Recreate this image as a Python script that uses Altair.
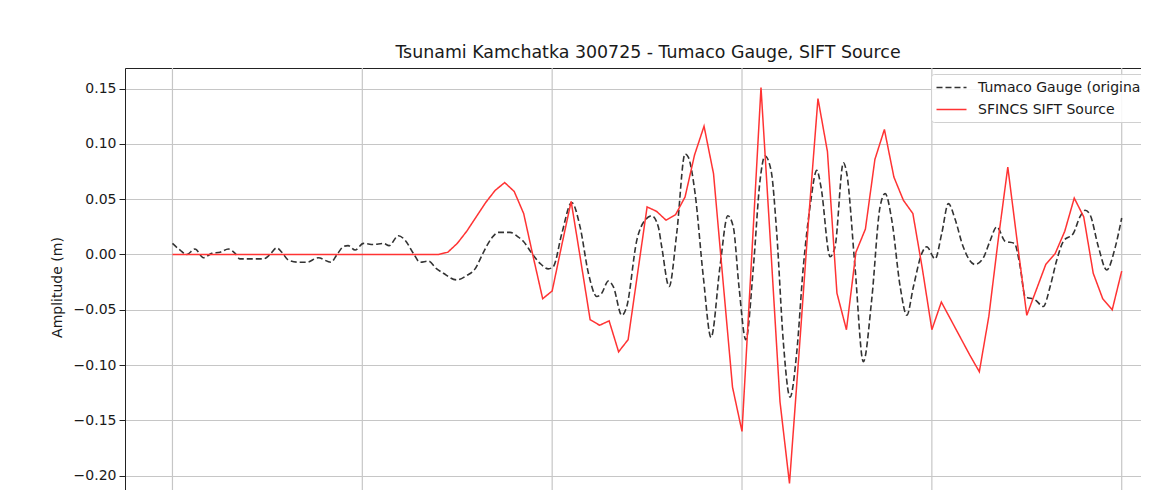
import altair as alt
import pandas as pd

chart_title = "Tsunami Kamchatka 300725 - Tumaco Gauge, SIFT Source"
y_title = "Amplitude (m)"
series_names = ["Tumaco Gauge (original)", "SFINCS SIFT Source"]
series_colors = ["#333333", "#ff3333"]
y_ticks = [-0.20, -0.15, -0.10, -0.05, 0.00, 0.05, 0.10, 0.15]
x_grid = [0, 1, 2, 3, 4, 5]

# Observed gauge record (time units, amplitude m), read at its turning points
gauge_t = [0.000, 0.040, 0.075, 0.119, 0.163, 0.207, 0.251, 0.294, 0.330, 0.356,
           0.418, 0.479, 0.514, 0.549, 0.576, 0.610, 0.663, 0.707, 0.768, 0.835,
           0.867, 0.900, 0.925, 0.962, 1.006, 1.058, 1.111, 1.141, 1.190, 1.225,
           1.269, 1.304, 1.348, 1.392, 1.427, 1.497, 1.550, 1.594, 1.638, 1.682,
           1.717, 1.778, 1.820, 1.848, 1.893, 1.936, 1.980, 2.006, 2.051, 2.103,
           2.147, 2.191, 2.235, 2.261, 2.296, 2.322, 2.367, 2.393, 2.446, 2.489,
           2.525, 2.559, 2.577, 2.616, 2.656, 2.700, 2.717, 2.753, 2.796, 2.837,
           2.884, 2.925, 2.954, 2.984, 3.020, 3.060, 3.095, 3.121, 3.153, 3.183,
           3.218, 3.253, 3.288, 3.323, 3.358, 3.394, 3.416, 3.464, 3.490, 3.534,
           3.552, 3.595, 3.639, 3.683, 3.727, 3.754, 3.789, 3.833, 3.868, 3.903,
           3.947, 3.973, 4.017, 4.052, 4.087, 4.122, 4.165, 4.227, 4.271, 4.306,
           4.342, 4.386, 4.435, 4.465, 4.491, 4.544, 4.587, 4.623, 4.658, 4.693,
           4.745, 4.780, 4.807, 4.833, 4.877, 4.921, 4.965, 5.000]
gauge_v = [0.010, 0.004, 0.000, 0.005, -0.003, 0.001, 0.002, 0.005, 0.001, -0.004,
           -0.004, -0.004, 0.000, 0.006, 0.002, -0.005, -0.007, -0.007, -0.003, -0.007,
           0.000, 0.007, 0.008, 0.004, 0.010, 0.009, 0.010, 0.008, 0.017, 0.013,
           0.001, -0.007, -0.006, -0.013, -0.017, -0.023, -0.019, -0.013, 0.002, 0.015,
           0.020, 0.020, 0.016, 0.012, 0.001, -0.008, -0.013, -0.011, 0.019, 0.047,
           0.025, -0.017, -0.038, -0.035, -0.024, -0.029, -0.055, -0.047, 0.013, 0.031,
           0.035, 0.025, 0.007, -0.029, 0.019, 0.091, 0.088, 0.055, -0.020, -0.075,
           -0.011, 0.035, 0.025, -0.029, -0.077, -0.011, 0.067, 0.089, 0.076, 0.019,
           -0.080, -0.129, -0.089, -0.011, 0.043, 0.076, 0.061, -0.002, 0.007, 0.083,
           0.073, -0.011, -0.097, -0.041, 0.043, 0.055, 0.031, -0.029, -0.055, -0.029,
           0.001, 0.007, -0.004, 0.019, 0.046, 0.032, 0.007, -0.009, -0.003, 0.012,
           0.025, 0.012, 0.010, -0.011, -0.038, -0.041, -0.047, -0.029, -0.005, 0.012,
           0.019, 0.034, 0.040, 0.036, 0.007, -0.014, 0.006, 0.033]

# SFINCS model output, one value per 0.05 time units from 0 to 5
model_step = 0.05
model_v = [0.0] * 29 + [
    0.002, 0.010, 0.021, 0.034, 0.047, 0.058, 0.065, 0.057, 0.037, -0.002,
    -0.040, -0.033, 0.008, 0.048, -0.005, -0.059, -0.064, -0.060, -0.088, -0.077,
    -0.017, 0.043, 0.039, 0.031, 0.036, 0.052, 0.090, 0.116, 0.073, -0.024,
    -0.120, -0.160, -0.005, 0.151, 0.010, -0.133, -0.207, -0.090, 0.030, 0.141,
    0.093, -0.035, -0.068, 0.002, 0.023, 0.086, 0.113, 0.070, 0.049, 0.037,
    -0.013, -0.068, -0.043, -0.059, -0.075, -0.091, -0.106, -0.056, 0.014, 0.079,
    0.011, -0.055, -0.032, -0.009, 0.001, 0.021, 0.051, 0.034, -0.017, -0.040,
    -0.050, -0.015]
model_t = [round(i * model_step, 2) for i in range(len(model_v))]

gauge_df = pd.DataFrame({"t": gauge_t, "v": gauge_v, "series": series_names[0]})
model_df = pd.DataFrame({"t": model_t, "v": model_v, "series": series_names[1]})
grid_df = pd.DataFrame({"t": x_grid})

FONT = "DejaVu Sans"
TEXT = "#1a1a1a"
GRID = "#c6c6c6"

legend = alt.Legend(
    orient="none", legendX=806, legendY=6, title=None,
    symbolType="M-2,0H2", symbolSize=225, symbolStrokeWidth=1.5, symbolOffset=7,
    labelFont=FONT, labelFontSize=14, labelColor=TEXT, labelOffset=18, labelLimit=600,
    padding=5, rowPadding=6, fillColor="rgba(255,255,255,0.85)",
    strokeColor="#d0d0d0", cornerRadius=3,
)

x_scale = alt.Scale(domain=[-0.25, 5.2596], nice=False, zero=False)
y_scale = alt.Scale(domain=[-0.2274, 0.1686], nice=False, zero=False)

x_enc = alt.X("t:Q", scale=x_scale,
              axis=alt.Axis(orient="top", values=x_grid, labels=False, ticks=False,
                            title=None, domainColor="#222222", domainWidth=1, grid=False))
y_enc = alt.Y("v:Q", scale=y_scale,
              axis=alt.Axis(values=y_ticks, format=".2f", title=y_title,
                            titleX=-64, titleY=219, titleAngle=270, titleAlign="center",
                            titleBaseline="alphabetic", titleFont=FONT, titleFontSize=14,
                            titleFontWeight="normal", titleColor=TEXT,
                            labelFont=FONT, labelFontSize=14, labelColor=TEXT,
                            labelPadding=3, tickSize=6, tickColor="#222222",
                            domainColor="#222222", domainWidth=1,
                            grid=True, gridColor=GRID, gridWidth=1.2))
color_enc = alt.Color("series:N", scale=alt.Scale(domain=series_names, range=series_colors),
                      legend=legend)
dash_enc = alt.StrokeDash("series:N", scale=alt.Scale(domain=series_names, range=[[6, 3], [1, 0]]),
                          legend=legend)

vgrid = alt.Chart(grid_df).mark_rule(color=GRID, strokeWidth=1.2).encode(x=x_enc)
gauge_line = alt.Chart(gauge_df).mark_line(strokeWidth=1.6, interpolate="monotone", clip=True).encode(
    x=x_enc, y=y_enc, color=color_enc, strokeDash=dash_enc)
model_line = alt.Chart(model_df).mark_line(strokeWidth=1.5, clip=True).encode(
    x=x_enc, y=y_enc, color=color_enc, strokeDash=dash_enc)

chart = alt.layer(vgrid, gauge_line, model_line).properties(
    width=1046, height=438,
    title=alt.TitleParams(chart_title, font=FONT, fontSize=17.4, fontWeight="normal",
                          color=TEXT, anchor="middle", frame="group", offset=6),
    autosize=alt.AutoSizeParams(type="none"),
    padding={"left": 117, "top": 60, "right": -30, "bottom": -16},
).configure_view(stroke="transparent", strokeWidth=0).configure(background="white")

chart.save("out.html", embed_options={"renderer": "svg", "actions": False})
